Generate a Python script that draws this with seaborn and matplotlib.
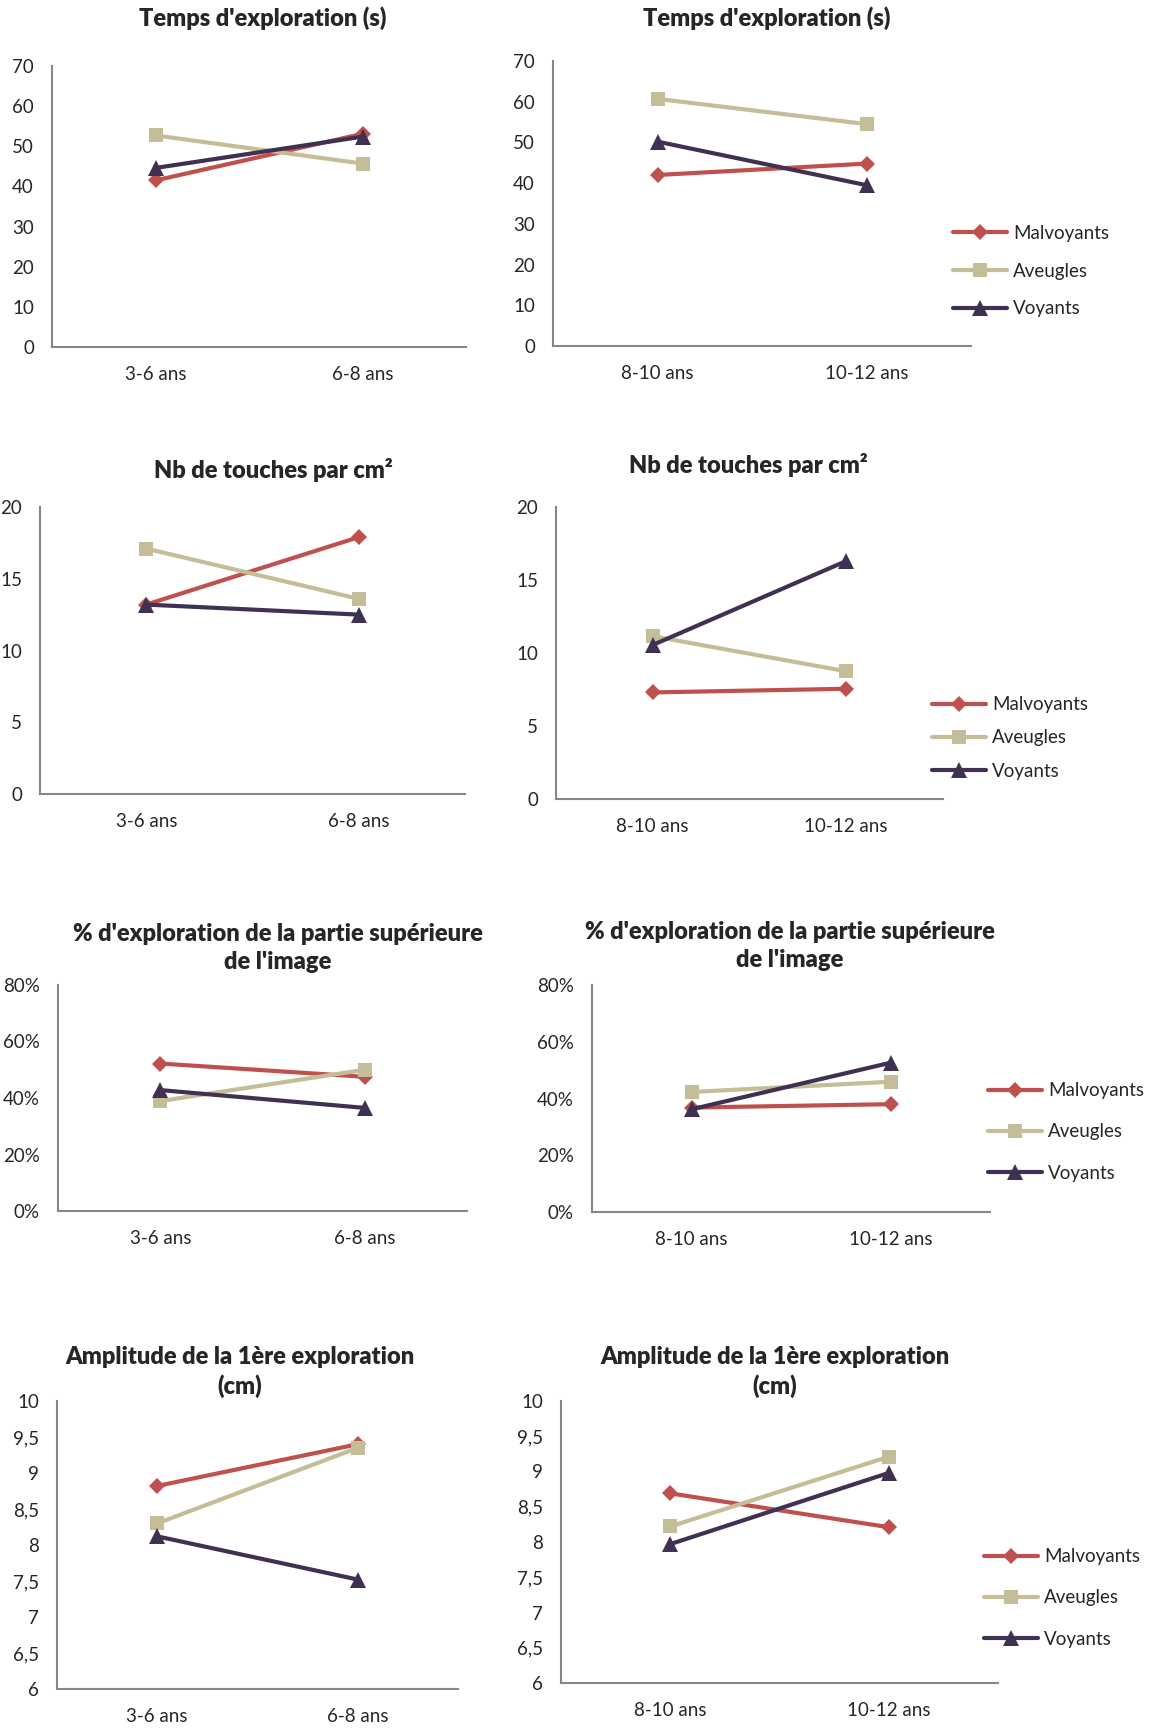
import numpy as np
import pandas as pd
import seaborn as sns
import matplotlib
matplotlib.use("Agg")
import matplotlib.pyplot as plt
from matplotlib.ticker import FuncFormatter

# Age groups
ages_young = ["3-6 ans", "6-8 ans"]
ages_old = ["8-10 ans", "10-12 ans"]
groups = ["Malvoyants", "Aveugles", "Voyants"]

# Temps d'exploration (s)
temps_young_mal = [41.5, 53.1]
temps_young_ave = [52.7, 45.7]
temps_young_voy = [44.6, 52.4]
temps_old_mal = [42.0, 44.8]
temps_old_ave = [60.7, 54.5]
temps_old_voy = [50.2, 39.5]

# Nb de touches par cm²
touches_young_mal = [13.2, 17.9]
touches_young_ave = [17.1, 13.6]
touches_young_voy = [13.2, 12.5]
touches_old_mal = [7.3, 7.55]
touches_old_ave = [11.15, 8.75]
touches_old_voy = [10.55, 16.3]

# % d'exploration de la partie supérieure (en %)
partie_young_mal = [52.2, 47.5]
partie_young_ave = [38.9, 50.0]
partie_young_voy = [42.8, 36.5]
partie_old_mal = [36.8, 38.0]
partie_old_ave = [42.3, 45.9]
partie_old_voy = [36.2, 52.6]

# Amplitude de la 1ère exploration (cm)
ampli_young_mal = [8.82, 9.40]
ampli_young_ave = [8.30, 9.35]
ampli_young_voy = [8.12, 7.52]
ampli_old_mal = [8.69, 8.21]
ampli_old_ave = [8.22, 9.21]
ampli_old_voy = [7.97, 8.98]

colors = {"Malvoyants": "#C0504D", "Aveugles": "#C4BD97", "Voyants": "#403152"}
markers = {"Malvoyants": "D", "Aveugles": "s", "Voyants": "^"}
msizes = {"Malvoyants": 8.5, "Aveugles": 10.5, "Voyants": 11.5}

sns.set_style("white")
plt.rcParams["font.family"] = ["Lato", "DejaVu Sans"]
AXCOL = "#868686"
TICKSIZE = 13.5

W, H = 1151, 1729
fig = plt.figure(figsize=(W / 100, H / 100), dpi=100)


def px_axes(x0, y0, x1, y1):
    # axes box from pixel coords (top-left origin)
    return fig.add_axes([x0 / W, (H - y1) / H, (x1 - x0) / W, (y1 - y0) / H])


def draw(ax, cats, mal, ave, voy, ylim, yticks, fmt):
    df = pd.DataFrame({
        "age": list(range(len(cats))) * 3,
        "val": list(mal) + list(ave) + list(voy),
        "groupe": np.repeat(groups, len(cats)),
    })
    for g in groups:
        sub = df[df["groupe"] == g]
        sns.lineplot(data=sub, x="age", y="val", ax=ax, color=colors[g],
                     marker=markers[g], markersize=msizes[g], linewidth=3,
                     markeredgewidth=0, label=g, legend=False)
    ax.set_xlim(-0.5, len(cats) - 0.5)
    ax.set_ylim(*ylim)
    ax.set_yticks(yticks)
    ax.yaxis.set_major_formatter(FuncFormatter(fmt))
    ax.set_xticks(np.arange(-0.5, len(cats), 1.0))
    ax.set_xticklabels([])
    ax.set_xticks(range(len(cats)), minor=True)
    ax.set_xticklabels(cats, minor=True)
    ax.tick_params(axis="x", which="minor", length=0, pad=14, labelsize=TICKSIZE)
    ax.tick_params(axis="x", which="major", length=5.5, width=1.2, color=AXCOL, direction="out")
    ax.tick_params(axis="y", length=6, width=1.2, color=AXCOL, direction="out",
                   pad=7, labelsize=TICKSIZE)
    ax.set_xlabel("")
    ax.set_ylabel("")
    for s in ["top", "right"]:
        ax.spines[s].set_visible(False)
    for s in ["left", "bottom"]:
        ax.spines[s].set_color(AXCOL)
        ax.spines[s].set_linewidth(1.5)
    ax.set_facecolor("none")
    for ln in ax.lines:
        ln.set_clip_on(False)


def add_legend(ax, x, y, spacing):
    h, l = ax.get_legend_handles_labels()
    ax.legend(h, l, loc="center left", bbox_to_anchor=(x / W, (H - y) / H),
              bbox_transform=fig.transFigure, frameon=False, fontsize=TICKSIZE,
              handlelength=2.9, handletextpad=0.3, borderpad=0, borderaxespad=0,
              labelspacing=spacing, numpoints=1)


def title(x, y, text):
    fig.text(x / W, (H - y) / H, text, ha="center", va="center",
             fontsize=17, fontweight="heavy", linespacing=1.3)


num = lambda v, p: f"{v:g}"
pct = lambda v, p: f"{v:.0f}%"
comma = lambda v, p: f"{v:g}".replace(".", ",")

# Row 1: Temps d'exploration
ax1 = px_axes(52, 66, 466, 347)
draw(ax1, ages_young, temps_young_mal, temps_young_ave, temps_young_voy,
     (0, 70), range(0, 71, 10), num)
title(263, 18, "Temps d'exploration (s)")

ax2 = px_axes(553, 61, 971, 346)
draw(ax2, ages_old, temps_old_mal, temps_old_ave, temps_old_voy,
     (0, 70), range(0, 71, 10), num)
title(767, 18, "Temps d'exploration (s)")
add_legend(ax2, 953, 271, 1.1)

# Row 2: Nb de touches par cm²
ax3 = px_axes(40, 507, 465, 794)
draw(ax3, ages_young, touches_young_mal, touches_young_ave, touches_young_voy,
     (0, 20), range(0, 21, 5), num)
title(273, 470, "Nb de touches par cm²")

ax4 = px_axes(556, 507, 943, 799)
draw(ax4, ages_old, touches_old_mal, touches_old_ave, touches_old_voy,
     (0, 20), range(0, 21, 5), num)
title(748, 465, "Nb de touches par cm²")
add_legend(ax4, 932, 738, 0.86)

# Row 3: % d'exploration de la partie supérieure
ax5 = px_axes(58, 985, 467, 1211)
draw(ax5, ages_young, partie_young_mal, partie_young_ave, partie_young_voy,
     (0, 80), range(0, 81, 20), pct)
title(278, 948, "% d'exploration de la partie supérieure\nde l'image")

ax6 = px_axes(592, 985, 990, 1212)
draw(ax6, ages_old, partie_old_mal, partie_old_ave, partie_old_voy,
     (0, 80), range(0, 81, 20), pct)
title(790, 946, "% d'exploration de la partie supérieure\nde l'image")
add_legend(ax6, 988, 1132, 1.29)

# Row 4: Amplitude de la 1ère exploration
ax7 = px_axes(57, 1401, 458, 1689)
draw(ax7, ages_young, ampli_young_mal, ampli_young_ave, ampli_young_voy,
     (6, 10), np.arange(6, 10.01, 0.5), comma)
title(240, 1372, "Amplitude de la 1ère exploration\n(cm)")

ax8 = px_axes(561, 1401, 998, 1683)
draw(ax8, ages_old, ampli_old_mal, ampli_old_ave, ampli_old_voy,
     (6, 10), np.arange(6, 10.01, 0.5), comma)
title(775, 1372, "Amplitude de la 1ère exploration\n(cm)")
add_legend(ax8, 984, 1598, 1.29)

fig.savefig("out.png", dpi=100, facecolor="white")
